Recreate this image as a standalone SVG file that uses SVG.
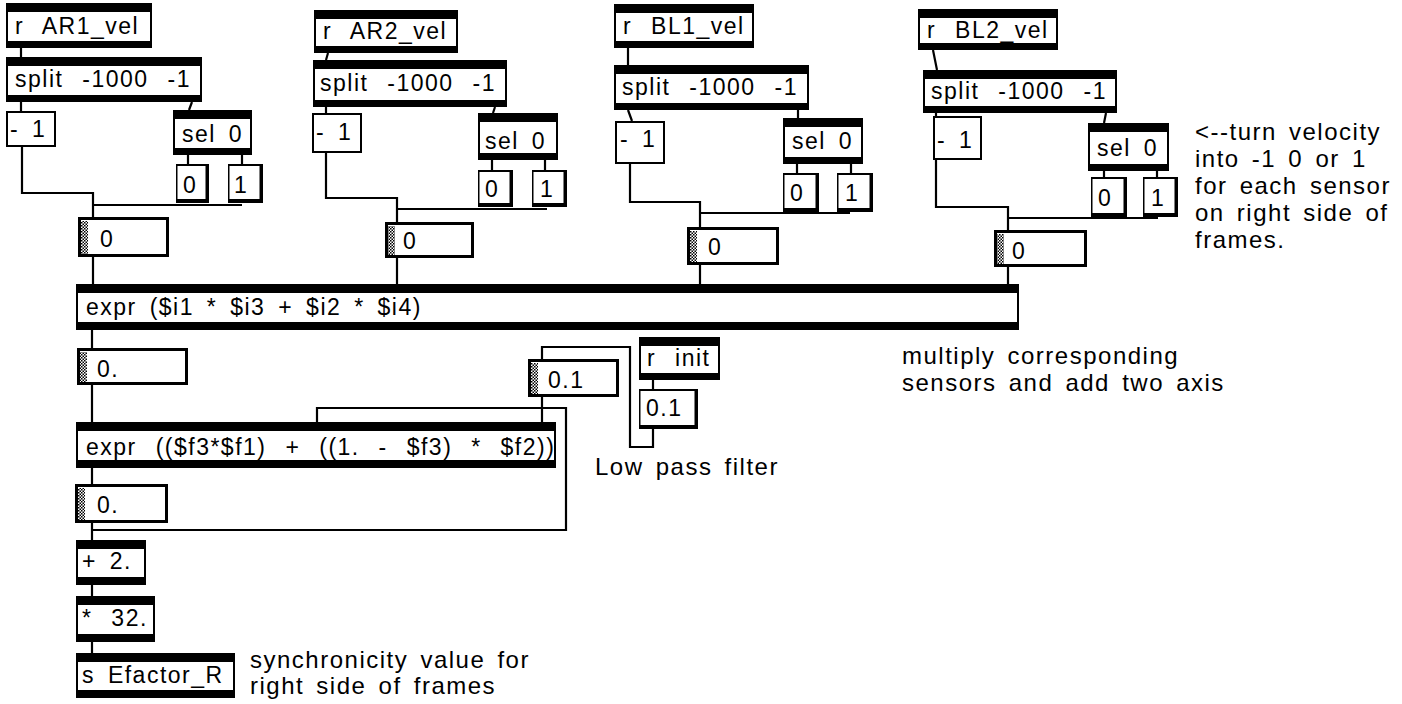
<svg xmlns="http://www.w3.org/2000/svg" width="1402" height="704" viewBox="0 0 1402 704">
<defs>
<pattern id="dith" width="3" height="3" patternUnits="userSpaceOnUse"><rect width="3" height="3" fill="#fff"/><rect width="1.5" height="1.5" fill="#000"/><rect x="1.5" y="1.5" width="1.5" height="1.5" fill="#000"/></pattern>
</defs>
<style>
.ob{fill:#000}
.in{fill:#fff}
.dt{fill:url(#dith)}
.t{font-family:"Liberation Sans",Arial,sans-serif;font-size:23px;letter-spacing:1.5px;word-spacing:5px;fill:#000}
.w{word-spacing:11px}
.a{font-family:"Liberation Sans",Arial,sans-serif;font-size:24px;letter-spacing:1.5px;word-spacing:4px;fill:#000}
.c{fill:none;stroke:#000;stroke-width:2.2}
</style>
<rect width="1402" height="704" fill="#fff"/>
<g id="connectors">
<path class="c" d="M21 48V57M21 102V111M192 102L189 110M188 155V164M242 155V164M22 147V193H93V217M93 205H242M93 257V284"/>
<path class="c" d="M328 53L326 60M326 107V113M495 107L493 113M492 160V170M545 160V170M326 153V198H397V222M397 209H547M397 258V284"/>
<path class="c" d="M628 48V65M628 110L632 121M798 110V118M797 164V173M851 164V173M630 164V202H700V227M700 213H850M700 265V284"/>
<path class="c" d="M933 50L937 70M936 113V116M1106 113L1104 123M1104 171V177M1157 171V177M936 160V207H1008V230M1008 218H1158M1008 267V285"/>
<path class="c" d="M92 330V348M92 385V422M542 397V422M92 468V484M92 523V540M92 530H566V408H317V422M92 585V596M92 642V653M653 380V389M653 429V447H630V347H542V359"/>
</g>
<!-- module 1 -->
<g id="r_AR1_vel"><rect class="ob" x="6" y="3" width="146" height="45"/><rect class="in" x="8" y="12" width="142" height="29"/><text class="t w" x="15" y="34">r AR1_vel</text></g>
<g id="split1"><rect class="ob" x="6" y="57" width="196" height="45"/><rect class="in" x="8" y="66" width="192" height="29"/><text class="t w" x="15" y="87">split -1000 -1</text></g>
<g id="minus1_1"><rect class="ob" x="6" y="111" width="50" height="36"/><rect class="in" x="8" y="113" width="46" height="32"/><text class="t" x="10" y="137">- 1</text></g>
<g id="sel1"><rect class="ob" x="173" y="110" width="79" height="45"/><rect class="in" x="175" y="119" width="75" height="29"/><text class="t" x="182" y="142">sel 0</text></g>
<g id="msg0_1"><rect class="ob" x="176" y="164" width="33" height="39"/><rect class="in" x="177.5" y="166" width="28" height="33"/><text class="t" x="183" y="193">0</text></g>
<g id="msg1_1"><rect class="ob" x="228" y="164" width="35" height="39"/><rect class="in" x="229.5" y="166" width="30" height="33"/><text class="t" x="234" y="193">1</text></g>
<g id="num1"><rect class="ob" x="78" y="217" width="91" height="40"/><rect class="in" x="81" y="220" width="85" height="34"/><rect class="dt" x="81" y="221" width="7" height="33"/><text class="t" x="100" y="247">0</text></g>
<!-- module 2 -->
<g id="r_AR2_vel"><rect class="ob" x="314" y="10" width="144" height="43"/><rect class="in" x="316" y="19" width="140" height="27"/><text class="t w" x="323" y="39">r AR2_vel</text></g>
<g id="split2"><rect class="ob" x="313" y="60" width="194" height="47"/><rect class="in" x="315" y="69" width="190" height="31"/><text class="t w" x="320" y="91">split -1000 -1</text></g>
<g id="minus1_2"><rect class="ob" x="312" y="113" width="50" height="40"/><rect class="in" x="314" y="115" width="46" height="36"/><text class="t" x="316" y="140">- 1</text></g>
<g id="sel2"><rect class="ob" x="478" y="113" width="80" height="47"/><rect class="in" x="480" y="122" width="76" height="31"/><text class="t" x="485" y="149">sel 0</text></g>
<g id="msg0_2"><rect class="ob" x="478" y="170" width="35" height="37"/><rect class="in" x="479.5" y="172" width="30" height="31"/><text class="t" x="485" y="197">0</text></g>
<g id="msg1_2"><rect class="ob" x="532" y="170" width="35" height="37"/><rect class="in" x="533.5" y="172" width="30" height="31"/><text class="t" x="540" y="197">1</text></g>
<g id="num2"><rect class="ob" x="385" y="222" width="89" height="36"/><rect class="in" x="388" y="225" width="83" height="30"/><rect class="dt" x="388" y="226" width="7" height="29"/><text class="t" x="403" y="249">0</text></g>
<!-- module 3 -->
<g id="r_BL1_vel"><rect class="ob" x="614" y="4" width="140" height="44"/><rect class="in" x="616" y="13" width="136" height="28"/><text class="t w" x="623" y="34">r BL1_vel</text></g>
<g id="split3"><rect class="ob" x="614" y="65" width="195" height="45"/><rect class="in" x="616" y="74" width="191" height="29"/><text class="t w" x="622" y="95">split -1000 -1</text></g>
<g id="minus1_3"><rect class="ob" x="615" y="121" width="50" height="43"/><rect class="in" x="617" y="123" width="46" height="39"/><text class="t" x="620" y="147">- 1</text></g>
<g id="sel3"><rect class="ob" x="783" y="118" width="80" height="46"/><rect class="in" x="785" y="127" width="76" height="30"/><text class="t" x="792" y="149">sel 0</text></g>
<g id="msg0_3"><rect class="ob" x="783" y="173" width="36" height="39"/><rect class="in" x="784.5" y="175" width="31" height="33"/><text class="t" x="790" y="201">0</text></g>
<g id="msg1_3"><rect class="ob" x="837" y="173" width="36" height="39"/><rect class="in" x="838.5" y="175" width="31" height="33"/><text class="t" x="845" y="201">1</text></g>
<g id="num3"><rect class="ob" x="687" y="227" width="92" height="38"/><rect class="in" x="690" y="230" width="86" height="32"/><rect class="dt" x="690" y="231" width="7" height="31"/><text class="t" x="708" y="255">0</text></g>
<!-- module 4 -->
<g id="r_BL2_vel"><rect class="ob" x="918" y="9" width="140" height="41"/><rect class="in" x="920" y="18" width="136" height="25"/><text class="t w" x="927" y="38">r BL2_vel</text></g>
<g id="split4"><rect class="ob" x="923" y="70" width="194" height="43"/><rect class="in" x="925" y="79" width="190" height="27"/><text class="t w" x="931" y="99">split -1000 -1</text></g>
<g id="minus1_4"><rect class="ob" x="933" y="116" width="49" height="44"/><rect class="in" x="935" y="118" width="45" height="40"/><text class="t" x="937" y="148">- 1</text></g>
<g id="sel4"><rect class="ob" x="1088" y="123" width="81" height="48"/><rect class="in" x="1090" y="132" width="77" height="32"/><text class="t" x="1097" y="156">sel 0</text></g>
<g id="msg0_4"><rect class="ob" x="1091" y="177" width="36" height="40"/><rect class="in" x="1092.5" y="179" width="31" height="34"/><text class="t" x="1098" y="206">0</text></g>
<g id="msg1_4"><rect class="ob" x="1143" y="177" width="35" height="40"/><rect class="in" x="1144.5" y="179" width="30" height="34"/><text class="t" x="1151" y="206">1</text></g>
<g id="num4"><rect class="ob" x="994" y="230" width="93" height="37"/><rect class="in" x="997" y="233" width="87" height="31"/><rect class="dt" x="997" y="234" width="7" height="30"/><text class="t" x="1012" y="259">0</text></g>
<!-- lower part -->
<g id="expr1"><rect class="ob" x="76" y="284" width="943" height="46"/><rect class="in" x="78" y="293" width="939" height="29"/><text class="t" x="86" y="315">expr ($i1 * $i3 + $i2 * $i4)</text></g>
<g id="num_out1"><rect class="ob" x="77" y="348" width="111" height="37"/><rect class="in" x="80" y="351" width="105" height="31"/><rect class="dt" x="80" y="352" width="7" height="30"/><text class="t" x="97" y="377">0.</text></g>
<g id="r_init"><rect class="ob" x="639" y="337" width="81" height="43"/><rect class="in" x="641" y="346" width="77" height="27"/><text class="t w" x="647" y="366">r init</text></g>
<g id="msg_01"><rect class="ob" x="639" y="389" width="59" height="40"/><rect class="in" x="640.5" y="391" width="54" height="34"/><text class="t" x="646" y="416">0.1</text></g>
<g id="num_coef"><rect class="ob" x="528" y="359" width="91" height="38"/><rect class="in" x="531" y="362" width="85" height="32"/><rect class="dt" x="531" y="363" width="7" height="31"/><text class="t" x="548" y="388">0.1</text></g>
<g id="expr2"><rect class="ob" x="76" y="422" width="480" height="46"/><rect class="in" x="78" y="431" width="476" height="29"/><text class="t w" x="86" y="455">expr (($f3*$f1) + ((1. - $f3) * $f2))</text></g>
<g id="num_out2"><rect class="ob" x="75" y="484" width="93" height="39"/><rect class="in" x="78" y="487" width="87" height="33"/><rect class="dt" x="78" y="488" width="7" height="32"/><text class="t" x="97" y="513">0.</text></g>
<g id="plus2"><rect class="ob" x="76" y="540" width="70" height="45"/><rect class="in" x="78" y="549" width="66" height="28"/><text class="t" x="82" y="569">+ 2.</text></g>
<g id="times32"><rect class="ob" x="76" y="596" width="79" height="46"/><rect class="in" x="78" y="605" width="75" height="29"/><text class="t w" x="82" y="626">* 32.</text></g>
<g id="s_Efactor_R"><rect class="ob" x="76" y="653" width="159" height="45"/><rect class="in" x="78" y="662" width="155" height="28"/><text class="t" x="82" y="683">s Efactor_R</text></g>
<!-- comments -->
<g id="comment_turn"><text class="a" x="1195" y="140">&lt;--turn velocity</text><text class="a" x="1195" y="167">into -1 0 or 1</text><text class="a" x="1195" y="194">for each sensor</text><text class="a" x="1195" y="221">on right side of</text><text class="a" x="1195" y="248">frames.</text></g>
<g id="comment_multiply"><text class="a" x="902" y="364">multiply corresponding</text><text class="a" x="902" y="391">sensors and add two axis</text></g>
<g id="comment_lowpass"><text class="a" x="595" y="475">Low pass filter</text></g>
<g id="comment_sync"><text class="a" x="250" y="668">synchronicity value for</text><text class="a" x="250" y="694">right side of frames</text></g>
</svg>
